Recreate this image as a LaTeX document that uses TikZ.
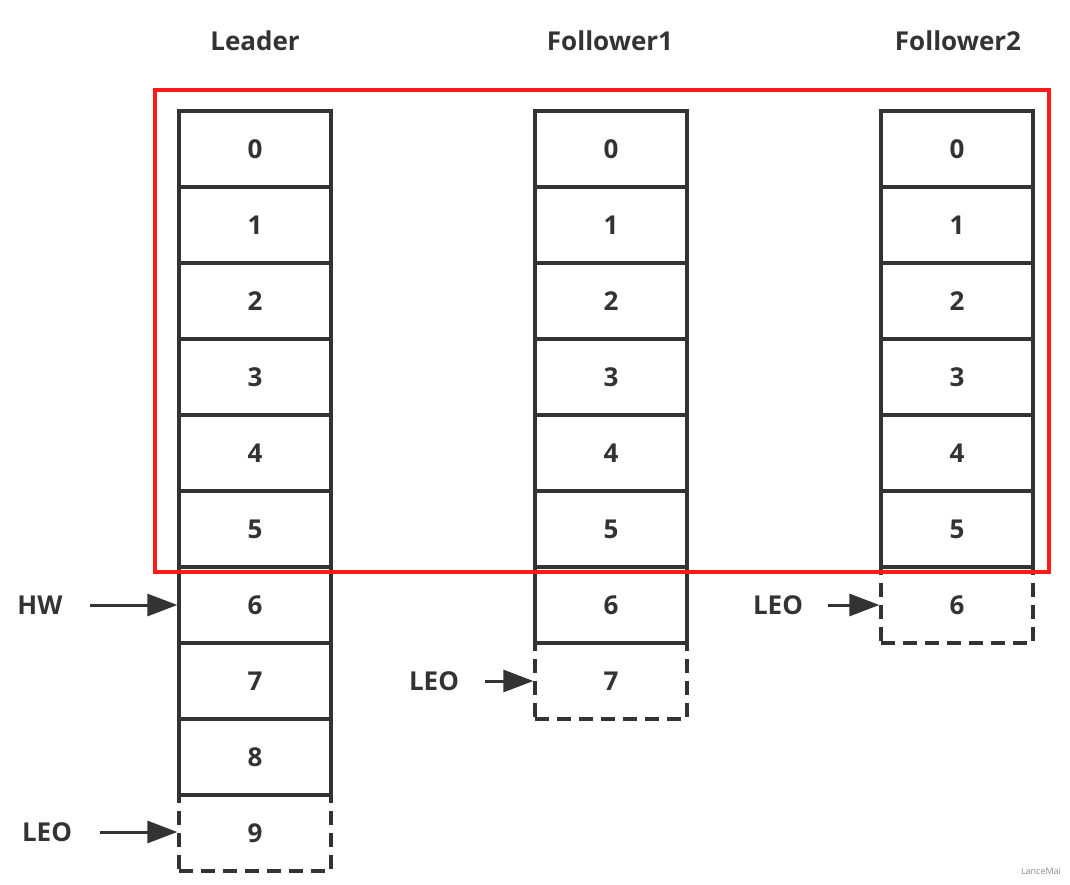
\documentclass[tikz,border=0pt]{standalone}
\usepackage{fontspec}
\setmainfont{Open Sans}
\usetikzlibrary{arrows.meta}
\definecolor{ink}{HTML}{333333}
\definecolor{redbox}{HTML}{FF1A1A}
\begin{document}
\begin{tikzpicture}[x=1pt,y=-1pt,
  cell/.style={draw=ink,line width=3.3pt,minimum width=152pt,minimum height=76pt,inner sep=0pt,
    font=\fontsize{26}{26}\selectfont\bfseries,text=ink},
  dcell/.style={cell,dash pattern=on 14pt off 8pt},
  title/.style={font=\fontsize{26}{26}\selectfont\bfseries,text=ink},
  lbl/.style={font=\fontsize{26}{26}\selectfont\bfseries,text=ink},
  ptr/.style={draw=ink,line width=3pt,-{Triangle[length=30pt,width=22pt]}}]
\useasboundingbox (0,0) rectangle (1070,885);
% titles
\node[title] (tL) at (255,41) {Leader};
\node[title] (tF1) at (610,41) {Follower1};
\node[title] (tF2) at (958,41) {Follower2};
% Leader column
\foreach \i in {0,...,8} {\node[cell] (L\i) at (255,{149+76*\i}) {\i};}
\node[dcell] (L9) at (255,{149+76*9}) {9};
% Follower1 column
\foreach \i in {0,...,6} {\node[cell] (A\i) at (611,{149+76*\i}) {\i};}
\node[dcell] (A7) at (611,{149+76*7}) {7};
% Follower2 column
\foreach \i in {0,...,5} {\node[cell] (B\i) at (957,{149+76*\i}) {\i};}
\node[dcell] (B6) at (957,{149+76*6}) {6};
% red box
\draw[redbox,line width=3.3pt] (155,90) rectangle (1049,572);
% pointers
\node[lbl] (hw) at (40,605) {HW};
\coordinate (hws) at (90,605);
\draw[ptr] (hws) -- (hws -| L6.west);
\node[lbl] (leoL) at (47,832) {LEO};
\coordinate (leoLs) at (100,832);
\draw[ptr] (leoLs) -- (leoLs -| L9.west);
\node[lbl] (leoA) at (434,681) {LEO};
\coordinate (leoAs) at (485,681);
\draw[ptr] (leoAs) -- (leoAs -| A7.west);
\node[lbl] (leoB) at (778,605) {LEO};
\coordinate (leoBs) at (828,605);
\draw[ptr] (leoBs) -- (leoBs -| B6.west);
% watermark
\node[font=\fontsize{9}{9}\selectfont,text=black!45] (wm) at (1041,871) {LanceMai};
\end{tikzpicture}
\end{document}
